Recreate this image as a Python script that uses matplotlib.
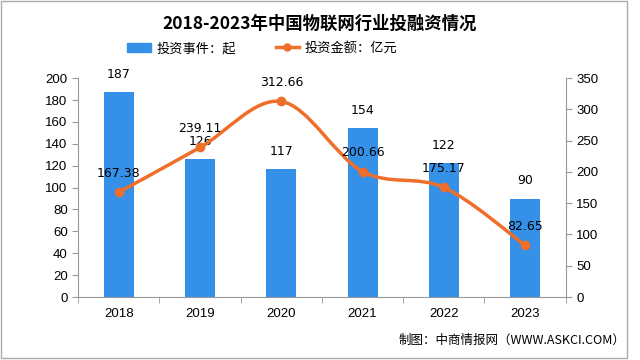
import numpy as np
import matplotlib.pyplot as plt
from matplotlib.path import Path
from matplotlib.patches import PathPatch, Rectangle
from matplotlib.lines import Line2D
from matplotlib.patches import Patch

plt.rcParams['font.family'] = ['Noto Sans CJK SC', 'DejaVu Sans']

years = ['2018', '2019', '2020', '2021', '2022', '2023']
events = [187, 126, 117, 154, 122, 90]
amount = [167.38, 239.11, 312.66, 200.66, 175.17, 82.65]

bar_color = '#3590E8'
line_color = '#EE6E2A'
spine_color = '#999999'

fig = plt.figure(figsize=(6.4, 3.6), dpi=100)
ax = fig.add_axes([0.122, 0.175, 0.762, 0.608])
ax2 = ax.twinx()

x = np.arange(len(years))
ax.bar(x, events, width=0.37, color=bar_color, zorder=2)
ax.set_xlim(-0.5, 5.5)
ax.set_ylim(0, 200)
ax.set_yticks(range(0, 201, 20))
ax2.set_ylim(0, 350)
ax2.set_yticks(range(0, 351, 50))

# 平滑曲线 (Catmull-Rom -> Bezier)
pts = np.column_stack([x, amount])
verts = [pts[0]]
codes = [Path.MOVETO]
for i in range(len(pts) - 1):
    p0 = pts[i - 1] if i > 0 else pts[i]
    p1, p2 = pts[i], pts[i + 1]
    p3 = pts[i + 2] if i + 2 < len(pts) else pts[i + 1]
    c1 = p1 + (p2 - p0) / 6
    c2 = p2 - (p3 - p1) / 6
    verts += [c1, c2, p2]
    codes += [Path.CURVE4] * 3
ax2.add_patch(PathPatch(Path(verts, codes), facecolor='none', edgecolor=line_color,
                        lw=2.5, zorder=3))
ax2.plot(x, amount, 'o', color=line_color, ms=6, zorder=4)

for xi, v in zip(x, events):
    ax.annotate(str(v), (xi, v), xytext=(0, 8), textcoords='offset points',
                ha='center', va='bottom', fontsize=9, family='DejaVu Sans')
for xi, v in zip(x, amount):
    ax2.annotate(f'{v:.2f}', (xi, v), xytext=(0, 9), textcoords='offset points',
                 ha='center', va='bottom', fontsize=9, family='DejaVu Sans')

ax.set_xticks(x)
ax.set_xticklabels(years)
ax.set_xticks(np.arange(-0.5, 6, 1), minor=True)
ax.tick_params(axis='x', which='major', length=0, pad=8)
ax.tick_params(axis='x', which='minor', length=4, color=spine_color)
ax.tick_params(axis='y', length=4, color=spine_color)
ax2.tick_params(axis='y', length=4, color=spine_color)
for a in (ax, ax2):
    for lab in a.get_xticklabels() + a.get_yticklabels():
        lab.set_family('Liberation Sans')
        lab.set_fontsize(9.5)
    a.spines['top'].set_visible(False)
    for s in ('left', 'right', 'bottom'):
        a.spines[s].set_color(spine_color)
ax.spines['right'].set_visible(False)
ax2.spines['left'].set_visible(False)
ax2.spines['bottom'].set_visible(False)

fig.text(0.5, 0.935, '2018-2023年中国物联网行业投融资情况', ha='center', va='center',
         fontsize=12.5, fontweight='bold')
handles = [Patch(color=bar_color), Line2D([], [], color=line_color, lw=2.5, marker='o', ms=5)]
fig.legend(handles, ['投资事件：起', '投资金额：亿元'], loc='center', bbox_to_anchor=(0.41, 0.865),
           ncol=2, frameon=False, fontsize=9.5, handlelength=1.8, columnspacing=3.0,
           handletextpad=0.4)
fig.text(0.977, 0.055, '制图：中商情报网（WWW.ASKCI.COM）', ha='right', va='center', fontsize=9)
fig.add_artist(Rectangle((0.002, 0.006), 0.978, 0.99, transform=fig.transFigure,
                         fill=False, edgecolor='#AAAAAA', lw=1))

fig.savefig('out.png', dpi=100)
